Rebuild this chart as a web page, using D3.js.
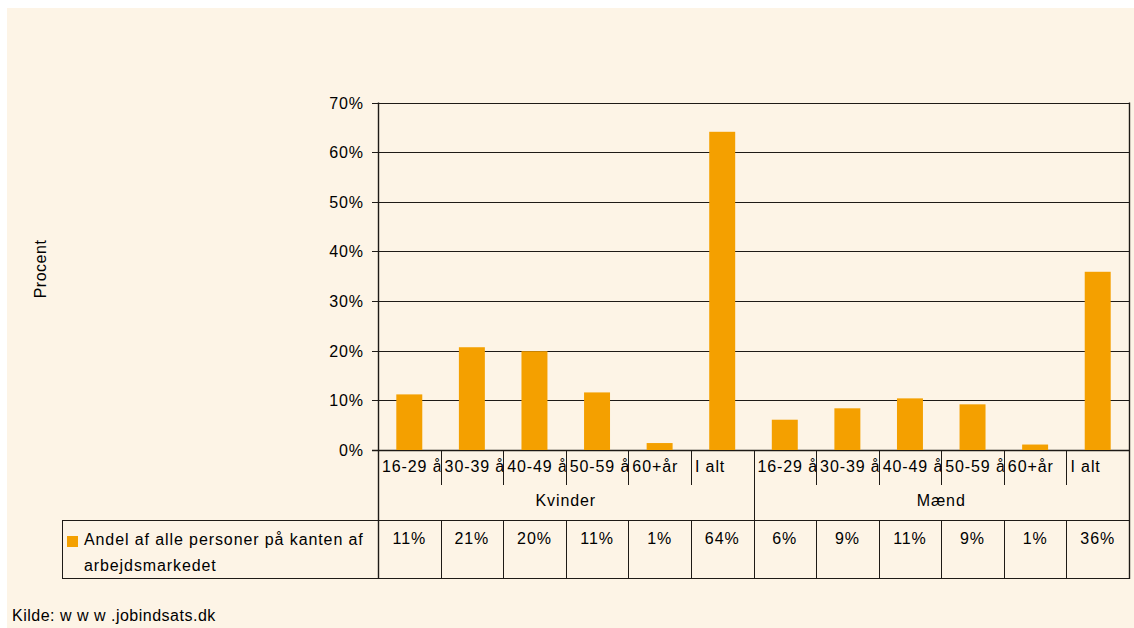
<!DOCTYPE html>
<html>
<head>
<meta charset="utf-8">
<script src="https://cdn.jsdelivr.net/npm/d3@7"></script>
<style>
  html, body { margin: 0; padding: 0; background: #ffffff; }
  svg { display: block; }
  text { font-family: "Liberation Sans", Arial, sans-serif; fill: #000; }
</style>
</head>
<body>
<svg id="chart" width="1134" height="628"></svg>
<script>
// ---- data ----
const groups = ["Kvinder", "Mænd"];
const ageGroups = ["16-29 år", "30-39 år", "40-49 år", "50-59 år", "60+år", "I alt"];
const kvinderValues = [11.2, 20.7, 19.9, 11.6, 1.4, 64.1];
const maendValues = [6.1, 8.4, 10.4, 9.2, 1.1, 35.9];
const kvinderLabels = ["11%", "21%", "20%", "11%", "1%", "64%"];
const maendLabels = ["6%", "9%", "11%", "9%", "1%", "36%"];
const yTicks = [0, 10, 20, 30, 40, 50, 60, 70];
const seriesName = ["Andel af alle personer på kanten af", "arbejdsmarkedet"];
const yTitle = "Procent";
const sourceText = "Kilde: w w w .jobindsats.dk";

(function () {
// ---- derived rows ----
const rows = [];
groups.forEach((g, gi) => {
  const vals = gi === 0 ? kvinderValues : maendValues;
  const labs = gi === 0 ? kvinderLabels : maendLabels;
  ageGroups.forEach((a, ai) => rows.push({ key: g + "|" + a, group: g, age: a, value: vals[ai], label: labs[ai] }));
});

const svg = d3.select("#chart");
const W = 1134, H = 628;
const pLeft = 378, pRight = 1129, pTop = 102.5, base = 450;
const lineCol = "#1e1a16";
const barCol = "#F4A000";
const fs = 16, ls = "0.9px";

svg.append("rect").attr("x", 7).attr("y", 8).attr("width", W - 7).attr("height", H - 8).attr("fill", "#FDF4E6");

const x = d3.scaleBand().domain(rows.map(d => d.key)).range([pLeft, pRight]).paddingInner(0.585).paddingOuter(0.2925);
const y = d3.scaleLinear().domain([0, 70]).range([base, pTop]);
const step = x.step();
const cellX = i => pLeft + i * step;

// gridlines
svg.append("g").selectAll("line").data(yTicks).join("line")
  .attr("x1", pLeft - 6).attr("x2", pRight)
  .attr("y1", d => Math.round(y(d)) + 0.5).attr("y2", d => Math.round(y(d)) + 0.5)
  .attr("stroke", lineCol).attr("stroke-width", d => d === 0 ? 1.6 : 1);

// y tick labels
svg.append("g").selectAll("text").data(yTicks).join("text")
  .attr("x", 364).attr("y", d => Math.round(y(d)) + 5.5)
  .attr("text-anchor", "end").attr("font-size", fs).style("letter-spacing", ls)
  .text(d => d + "%");

// bars
svg.append("g").selectAll("rect").data(rows).join("rect")
  .attr("x", d => x(d.key)).attr("width", x.bandwidth())
  .attr("y", d => y(d.value)).attr("height", d => base - y(d.value))
  .attr("fill", barCol);

// axis lines
const vline = (xx, y1, y2, w) => svg.append("line").attr("x1", Math.round(xx) + 0.5).attr("x2", Math.round(xx) + 0.5)
  .attr("y1", y1).attr("y2", y2).attr("stroke", lineCol).attr("stroke-width", w || 1);
const hline = (x1, x2, yy) => svg.append("line").attr("x1", x1).attr("x2", x2)
  .attr("y1", yy + 0.5).attr("y2", yy + 0.5).attr("stroke", lineCol).attr("stroke-width", 1);

vline(pLeft, pTop, 579, 1.4);
vline(pRight, pTop, 579, 1.4);

// category separators (within groups)
rows.forEach((d, i) => {
  if (i > 0 && i % ageGroups.length !== 0) vline(cellX(i), base, 485);
});
// group boundary
vline(cellX(ageGroups.length), base, 579);

// category labels (clipped to their cell)
const defs = svg.append("defs");
rows.forEach((d, i) => {
  defs.append("clipPath").attr("id", "clip" + i).append("rect")
    .attr("x", cellX(i) + 1).attr("y", base).attr("width", step - 1).attr("height", 35);
});
svg.append("g").selectAll("text").data(rows).join("text")
  .attr("x", (d, i) => cellX(i) + 4).attr("y", 472)
  .attr("clip-path", (d, i) => "url(#clip" + i + ")")
  .attr("font-size", fs).style("letter-spacing", ls)
  .text(d => d.age);

// group labels
svg.append("g").selectAll("text").data(groups).join("text")
  .attr("x", (g, gi) => cellX(gi * ageGroups.length) + step * ageGroups.length / 2)
  .attr("y", 506).attr("text-anchor", "middle")
  .attr("font-size", fs).style("letter-spacing", ls)
  .text(g => g);

// data table
hline(62, pRight + 1, 520);
hline(62, pRight + 1, 578);
vline(62, 520, 579);
rows.forEach((d, i) => vline(cellX(i), 520, 579));
svg.append("g").selectAll("text").data(rows).join("text")
  .attr("x", (d, i) => cellX(i) + step / 2).attr("y", 544)
  .attr("text-anchor", "middle").attr("font-size", fs).style("letter-spacing", ls)
  .text(d => d.label);

// legend key
svg.append("rect").attr("x", 67).attr("y", 536).attr("width", 11).attr("height", 11).attr("fill", barCol);
svg.append("g").selectAll("text").data(seriesName).join("text")
  .attr("x", 84).attr("y", (d, i) => 545 + i * 26)
  .attr("font-size", fs).style("letter-spacing", ls)
  .text(d => d);

// y title
svg.append("text").attr("transform", "translate(46,269) rotate(-90)")
  .attr("text-anchor", "middle").attr("font-size", fs).style("letter-spacing", "0.5px")
  .text(yTitle);

// source
svg.append("text").attr("x", 12).attr("y", 621).attr("font-size", fs).style("letter-spacing", "0.5px")
  .text(sourceText);
})();
</script>
</body>
</html>
